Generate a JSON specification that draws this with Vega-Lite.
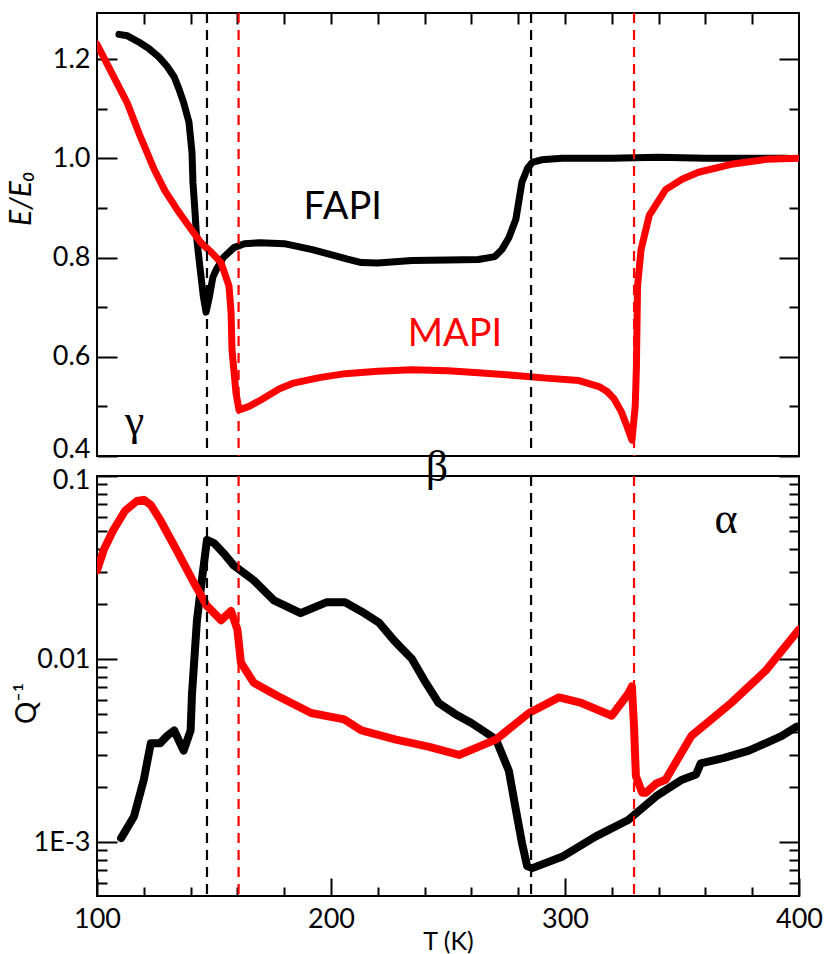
{
  "$schema": "https://vega.github.io/schema/vega-lite/v6.json",
  "background": "white",
  "padding": {"left": 5, "top": 10, "right": 20, "bottom": 0},
  "autosize": {"type": "pad"},
  "config": {
    "font": "Lato",
    "view": {"stroke": "black", "strokeWidth": 2},
    "axis": {
      "labelFontSize": 27, "labelColor": "black", "labelFont": "Lato",
      "titleFontSize": 26, "titleFontWeight": "normal", "titleColor": "black", "titleFont": "Lato",
      "tickColor": "black", "tickWidth": 2, "domain": false, "grid": false,
      "labelFlush": false, "labelOverlap": false, "labelBound": false
    }
  },
  "datasets": {
    "E": [
      {"s": "FAPI", "T": 109.4, "E": 1.25}, {"s": "FAPI", "T": 113, "E": 1.247}, {"s": "FAPI", "T": 118, "E": 1.234},
      {"s": "FAPI", "T": 122, "E": 1.222}, {"s": "FAPI", "T": 126.5, "E": 1.204}, {"s": "FAPI", "T": 130, "E": 1.185},
      {"s": "FAPI", "T": 133, "E": 1.164}, {"s": "FAPI", "T": 135, "E": 1.14}, {"s": "FAPI", "T": 137, "E": 1.113},
      {"s": "FAPI", "T": 139.3, "E": 1.073}, {"s": "FAPI", "T": 140.6, "E": 1.012}, {"s": "FAPI", "T": 141, "E": 0.952},
      {"s": "FAPI", "T": 141.9, "E": 0.891}, {"s": "FAPI", "T": 142.5, "E": 0.844}, {"s": "FAPI", "T": 144, "E": 0.78},
      {"s": "FAPI", "T": 145.5, "E": 0.72}, {"s": "FAPI", "T": 146.6, "E": 0.69}, {"s": "FAPI", "T": 148, "E": 0.72},
      {"s": "FAPI", "T": 149.5, "E": 0.76}, {"s": "FAPI", "T": 151, "E": 0.776}, {"s": "FAPI", "T": 154, "E": 0.8},
      {"s": "FAPI", "T": 158.5, "E": 0.82}, {"s": "FAPI", "T": 163, "E": 0.828}, {"s": "FAPI", "T": 170, "E": 0.83},
      {"s": "FAPI", "T": 180, "E": 0.828}, {"s": "FAPI", "T": 192, "E": 0.816}, {"s": "FAPI", "T": 200, "E": 0.806},
      {"s": "FAPI", "T": 207, "E": 0.797}, {"s": "FAPI", "T": 213, "E": 0.79}, {"s": "FAPI", "T": 220, "E": 0.789},
      {"s": "FAPI", "T": 234.6, "E": 0.794}, {"s": "FAPI", "T": 250, "E": 0.795}, {"s": "FAPI", "T": 263, "E": 0.796},
      {"s": "FAPI", "T": 270, "E": 0.802}, {"s": "FAPI", "T": 273, "E": 0.816}, {"s": "FAPI", "T": 276, "E": 0.84},
      {"s": "FAPI", "T": 279, "E": 0.877}, {"s": "FAPI", "T": 281.6, "E": 0.952}, {"s": "FAPI", "T": 284, "E": 0.98},
      {"s": "FAPI", "T": 286, "E": 0.992}, {"s": "FAPI", "T": 290, "E": 0.997}, {"s": "FAPI", "T": 298.7, "E": 1.0},
      {"s": "FAPI", "T": 320, "E": 1.0}, {"s": "FAPI", "T": 340, "E": 1.002}, {"s": "FAPI", "T": 360, "E": 1.0},
      {"s": "FAPI", "T": 380, "E": 1.0}, {"s": "FAPI", "T": 395, "E": 1.0},
      {"s": "MAPI", "T": 100, "E": 1.23}, {"s": "MAPI", "T": 106, "E": 1.175}, {"s": "MAPI", "T": 112.8, "E": 1.113},
      {"s": "MAPI", "T": 118, "E": 1.05}, {"s": "MAPI", "T": 124.4, "E": 0.978}, {"s": "MAPI", "T": 129, "E": 0.935},
      {"s": "MAPI", "T": 134.2, "E": 0.897}, {"s": "MAPI", "T": 139, "E": 0.865}, {"s": "MAPI", "T": 144.4, "E": 0.83},
      {"s": "MAPI", "T": 149, "E": 0.81}, {"s": "MAPI", "T": 153, "E": 0.79}, {"s": "MAPI", "T": 156.4, "E": 0.743},
      {"s": "MAPI", "T": 157.3, "E": 0.689}, {"s": "MAPI", "T": 157.7, "E": 0.614}, {"s": "MAPI", "T": 159.4, "E": 0.527},
      {"s": "MAPI", "T": 160.7, "E": 0.493}, {"s": "MAPI", "T": 165, "E": 0.5}, {"s": "MAPI", "T": 170, "E": 0.513},
      {"s": "MAPI", "T": 177.8, "E": 0.535}, {"s": "MAPI", "T": 184, "E": 0.547}, {"s": "MAPI", "T": 195, "E": 0.558},
      {"s": "MAPI", "T": 206, "E": 0.566}, {"s": "MAPI", "T": 220, "E": 0.571}, {"s": "MAPI", "T": 234.6, "E": 0.574},
      {"s": "MAPI", "T": 250, "E": 0.572}, {"s": "MAPI", "T": 263, "E": 0.568}, {"s": "MAPI", "T": 280, "E": 0.562},
      {"s": "MAPI", "T": 292, "E": 0.557}, {"s": "MAPI", "T": 306, "E": 0.552}, {"s": "MAPI", "T": 314.5, "E": 0.54},
      {"s": "MAPI", "T": 318, "E": 0.53}, {"s": "MAPI", "T": 321, "E": 0.515}, {"s": "MAPI", "T": 324, "E": 0.49},
      {"s": "MAPI", "T": 326.5, "E": 0.46}, {"s": "MAPI", "T": 328.6, "E": 0.432}, {"s": "MAPI", "T": 330, "E": 0.5},
      {"s": "MAPI", "T": 330.5, "E": 0.574}, {"s": "MAPI", "T": 331, "E": 0.743}, {"s": "MAPI", "T": 332.5, "E": 0.816},
      {"s": "MAPI", "T": 336, "E": 0.885}, {"s": "MAPI", "T": 343, "E": 0.937}, {"s": "MAPI", "T": 350, "E": 0.958},
      {"s": "MAPI", "T": 357, "E": 0.972}, {"s": "MAPI", "T": 371, "E": 0.988}, {"s": "MAPI", "T": 386, "E": 0.998},
      {"s": "MAPI", "T": 400, "E": 1.0}
    ],
    "Q": [
      {"s": "FAPI", "T": 110.3, "Q": 0.00105}, {"s": "FAPI", "T": 115.8, "Q": 0.00138}, {"s": "FAPI", "T": 120, "Q": 0.00219},
      {"s": "FAPI", "T": 123, "Q": 0.00347}, {"s": "FAPI", "T": 127, "Q": 0.00347}, {"s": "FAPI", "T": 130, "Q": 0.0038},
      {"s": "FAPI", "T": 133, "Q": 0.00407}, {"s": "FAPI", "T": 137, "Q": 0.00316}, {"s": "FAPI", "T": 140, "Q": 0.00407},
      {"s": "FAPI", "T": 140.6, "Q": 0.00646}, {"s": "FAPI", "T": 141.5, "Q": 0.00955}, {"s": "FAPI", "T": 142.7, "Q": 0.0162},
      {"s": "FAPI", "T": 145, "Q": 0.0282}, {"s": "FAPI", "T": 147, "Q": 0.0447}, {"s": "FAPI", "T": 150, "Q": 0.043},
      {"s": "FAPI", "T": 154, "Q": 0.038}, {"s": "FAPI", "T": 158.5, "Q": 0.0324}, {"s": "FAPI", "T": 167, "Q": 0.0269},
      {"s": "FAPI", "T": 175.6, "Q": 0.0209}, {"s": "FAPI", "T": 187, "Q": 0.0178}, {"s": "FAPI", "T": 198, "Q": 0.0204},
      {"s": "FAPI", "T": 206, "Q": 0.0204}, {"s": "FAPI", "T": 213, "Q": 0.0182}, {"s": "FAPI", "T": 220.5, "Q": 0.0158},
      {"s": "FAPI", "T": 227, "Q": 0.0126}, {"s": "FAPI", "T": 234.6, "Q": 0.01}, {"s": "FAPI", "T": 240, "Q": 0.0076},
      {"s": "FAPI", "T": 246, "Q": 0.00575}, {"s": "FAPI", "T": 253, "Q": 0.00501}, {"s": "FAPI", "T": 260, "Q": 0.00447},
      {"s": "FAPI", "T": 266, "Q": 0.00398}, {"s": "FAPI", "T": 270.5, "Q": 0.00363}, {"s": "FAPI", "T": 276, "Q": 0.00245},
      {"s": "FAPI", "T": 279, "Q": 0.0015}, {"s": "FAPI", "T": 281.6, "Q": 0.00099}, {"s": "FAPI", "T": 283.8, "Q": 0.00074},
      {"s": "FAPI", "T": 286, "Q": 0.00072}, {"s": "FAPI", "T": 298.7, "Q": 0.00083}, {"s": "FAPI", "T": 313, "Q": 0.00107},
      {"s": "FAPI", "T": 327, "Q": 0.00132}, {"s": "FAPI", "T": 339, "Q": 0.00178}, {"s": "FAPI", "T": 350, "Q": 0.00219},
      {"s": "FAPI", "T": 356, "Q": 0.00234}, {"s": "FAPI", "T": 358, "Q": 0.00269}, {"s": "FAPI", "T": 368, "Q": 0.00288},
      {"s": "FAPI", "T": 378.6, "Q": 0.00316}, {"s": "FAPI", "T": 392.7, "Q": 0.0038}, {"s": "FAPI", "T": 399, "Q": 0.00427},
      {"s": "MAPI", "T": 100, "Q": 0.0306}, {"s": "MAPI", "T": 103, "Q": 0.0398}, {"s": "MAPI", "T": 107, "Q": 0.0507},
      {"s": "MAPI", "T": 112, "Q": 0.0646}, {"s": "MAPI", "T": 117, "Q": 0.073}, {"s": "MAPI", "T": 120, "Q": 0.0741},
      {"s": "MAPI", "T": 123, "Q": 0.0695}, {"s": "MAPI", "T": 127, "Q": 0.0575}, {"s": "MAPI", "T": 134, "Q": 0.0394},
      {"s": "MAPI", "T": 141.5, "Q": 0.026}, {"s": "MAPI", "T": 147, "Q": 0.0195}, {"s": "MAPI", "T": 153, "Q": 0.0163},
      {"s": "MAPI", "T": 157.3, "Q": 0.0183}, {"s": "MAPI", "T": 160, "Q": 0.0145}, {"s": "MAPI", "T": 161.5, "Q": 0.00955},
      {"s": "MAPI", "T": 167, "Q": 0.00741}, {"s": "MAPI", "T": 177, "Q": 0.0063}, {"s": "MAPI", "T": 191.5, "Q": 0.00507},
      {"s": "MAPI", "T": 205.6, "Q": 0.00468}, {"s": "MAPI", "T": 213, "Q": 0.00407}, {"s": "MAPI", "T": 227.8, "Q": 0.00363},
      {"s": "MAPI", "T": 242, "Q": 0.00331}, {"s": "MAPI", "T": 254.7, "Q": 0.00299}, {"s": "MAPI", "T": 263, "Q": 0.00331},
      {"s": "MAPI", "T": 270.5, "Q": 0.00363}, {"s": "MAPI", "T": 284.6, "Q": 0.00507}, {"s": "MAPI", "T": 297.4, "Q": 0.00617},
      {"s": "MAPI", "T": 307, "Q": 0.00575}, {"s": "MAPI", "T": 320, "Q": 0.0049}, {"s": "MAPI", "T": 327, "Q": 0.00646},
      {"s": "MAPI", "T": 328.6, "Q": 0.00708}, {"s": "MAPI", "T": 329.5, "Q": 0.00427}, {"s": "MAPI", "T": 330.3, "Q": 0.00229},
      {"s": "MAPI", "T": 333, "Q": 0.00186}, {"s": "MAPI", "T": 334.6, "Q": 0.00186}, {"s": "MAPI", "T": 339, "Q": 0.00209},
      {"s": "MAPI", "T": 343, "Q": 0.00219}, {"s": "MAPI", "T": 354, "Q": 0.0038}, {"s": "MAPI", "T": 364.5, "Q": 0.0049},
      {"s": "MAPI", "T": 371, "Q": 0.00575}, {"s": "MAPI", "T": 386, "Q": 0.0087}, {"s": "MAPI", "T": 400, "Q": 0.0145}
    ],
    "trans": [
      {"s": "FAPI", "T": 147}, {"s": "MAPI", "T": 160.5}, {"s": "FAPI", "T": 285.5}, {"s": "MAPI", "T": 329.5}
    ],
    "notesE": [
      {"s": "FAPI", "kind": "series", "label": "FAPI", "T": 205, "E": 0.877},
      {"s": "MAPI", "kind": "series", "label": "MAPI", "T": 253, "E": 0.622},
      {"s": "phase", "kind": "phase", "label": "γ", "T": 116, "E": 0.442}
    ],
    "notesQ": [
      {"s": "phase", "kind": "phase", "label": "β", "T": 245.3, "Q": 0.094},
      {"s": "phase", "kind": "phase", "label": "α", "T": 368.8, "Q": 0.0489}
    ]
  },
  "vconcat": [
    {
      "width": 702,
      "height": 443,
      "resolve": {"axis": {"x": "independent", "y": "independent"}},
      "layer": [
        {
          "data": {"name": "E"},
          "transform": [{"filter": "datum.s === 'FAPI'"}],
          "mark": {"type": "line", "color": "black", "strokeWidth": 7, "strokeCap": "round", "strokeJoin": "round", "clip": true},
          "encoding": {
            "x": {"field": "T", "type": "quantitative", "scale": {"domain": [100, 400], "nice": false, "zero": false},
                  "axis": {"orient": "bottom", "ticks": false, "labels": false, "title": null}},
            "y": {"field": "E", "type": "quantitative", "scale": {"domain": [0.4, 1.293], "nice": false, "zero": false},
                  "axis": {"orient": "left", "values": [0.4, 0.5, 0.6, 0.7, 0.8, 0.9, 1.0, 1.1, 1.2],
                           "labelExpr": "round(datum.value*10) % 2 === 0 ? format(datum.value, '.1f') : ''",
                           "tickSize": {"condition": {"test": "round(datum.value*10) % 2 === 0", "value": -20}, "value": -10},
                           "labelOffset": {"condition": {"test": "datum.value === 0.4", "value": -7}, "value": 0},
                           "labelPadding": 27,
                           "title": "E/E₀", "titleFontStyle": "italic", "titleFontSize": 30,
                           "titleX": -76, "titleY": 185, "titleBaseline": "middle", "titleAngle": -90}}
          }
        },
        {
          "data": {"name": "E"},
          "transform": [{"filter": "datum.s === 'MAPI'"}],
          "mark": {"type": "line", "color": "#ff0000", "strokeWidth": 7, "strokeCap": "round", "strokeJoin": "round", "clip": true},
          "encoding": {
            "x": {"field": "T", "type": "quantitative",
                  "axis": {"orient": "top", "values": [120, 140, 160, 180, 200, 220, 240, 260, 280, 300, 320, 340, 360, 380],
                           "labels": false, "tickSize": -11, "title": null}},
            "y": {"field": "E", "type": "quantitative",
                  "axis": {"orient": "right", "values": [0.4, 0.5, 0.6, 0.7, 0.8, 0.9, 1.0, 1.1, 1.2], "labels": false,
                           "tickSize": {"condition": {"test": "round(datum.value*10) % 2 === 0", "value": -20}, "value": -10},
                           "title": null}}
          }
        },
        {
          "data": {"name": "trans"},
          "mark": {"type": "rule", "strokeWidth": 2.2, "strokeDash": [10, 7]},
          "encoding": {
            "x": {"field": "T", "type": "quantitative", "axis": null},
            "color": {"field": "s", "type": "nominal", "scale": {"domain": ["FAPI", "MAPI", "phase"], "range": ["black", "#ff0000", "black"]}, "legend": null}
          }
        },
        {
          "data": {"name": "notesE"},
          "transform": [{"filter": "datum.kind === 'series'"}],
          "mark": {"type": "text", "font": "Lato", "fontSize": 38, "align": "center", "baseline": "alphabetic"},
          "encoding": {
            "x": {"field": "T", "type": "quantitative", "axis": null},
            "y": {"field": "E", "type": "quantitative", "axis": null},
            "text": {"field": "label"},
            "color": {"field": "s", "type": "nominal", "legend": null}
          }
        },
        {
          "data": {"name": "notesE"},
          "transform": [{"filter": "datum.kind === 'phase'"}],
          "mark": {"type": "text", "font": "Liberation Serif", "fontSize": 44, "align": "center", "baseline": "alphabetic"},
          "encoding": {
            "x": {"field": "T", "type": "quantitative", "axis": null},
            "y": {"field": "E", "type": "quantitative", "axis": null},
            "text": {"field": "label"},
            "color": {"field": "s", "type": "nominal", "legend": null}
          }
        }
      ]
    },
    {
      "width": 702,
      "height": 420,
      "resolve": {"axis": {"x": "independent", "y": "independent"}},
      "layer": [
        {
          "data": {"name": "Q"},
          "transform": [{"filter": "datum.s === 'FAPI'"}],
          "mark": {"type": "line", "color": "black", "strokeWidth": 8, "strokeCap": "round", "strokeJoin": "round", "clip": true},
          "encoding": {
            "x": {"field": "T", "type": "quantitative", "scale": {"domain": [100, 400], "nice": false, "zero": false},
                  "axis": {"orient": "bottom", "values": [100, 120, 140, 160, 180, 200, 220, 240, 260, 280, 300, 320, 340, 360, 380, 400],
                           "labelExpr": "datum.value % 100 === 0 ? datum.label : ''",
                           "tickSize": {"condition": {"test": "datum.value % 100 === 0", "value": -18}, "value": -9},
                           "labelPadding": 28,
                           "title": "T (K)", "titleFontSize": 25, "titleY": 45, "titleBaseline": "middle"}},
            "y": {"field": "Q", "type": "quantitative", "scale": {"type": "log", "domain": [0.000507, 0.1], "nice": false},
                  "axis": {"orient": "left",
                           "values": [0.0006, 0.0007, 0.0008, 0.0009, 0.001, 0.002, 0.003, 0.004, 0.005, 0.006, 0.007, 0.008, 0.009, 0.01, 0.02, 0.03, 0.04, 0.05, 0.06, 0.07, 0.08, 0.09, 0.1],
                           "labelExpr": "datum.value === 0.1 ? '0.1' : datum.value === 0.01 ? '0.01' : datum.value === 0.001 ? '1E-3' : ''",
                           "tickSize": {"condition": {"test": "datum.value === 0.1 || datum.value === 0.01 || datum.value === 0.001", "value": -20}, "value": -10},
                           "labelOffset": {"condition": {"test": "datum.value === 0.1", "value": 4}, "value": 0},
                           "labelPadding": 27,
                           "title": "Q⁻¹", "titleFontSize": 28,
                           "titleX": -70, "titleY": 227, "titleBaseline": "middle", "titleAngle": -90}}
          }
        },
        {
          "data": {"name": "Q"},
          "transform": [{"filter": "datum.s === 'MAPI'"}],
          "mark": {"type": "line", "color": "#ff0000", "strokeWidth": 8, "strokeCap": "round", "strokeJoin": "round", "clip": true},
          "encoding": {
            "x": {"field": "T", "type": "quantitative", "axis": {"orient": "top", "ticks": false, "labels": false, "title": null}},
            "y": {"field": "Q", "type": "quantitative",
                  "axis": {"orient": "right",
                           "values": [0.0006, 0.0007, 0.0008, 0.0009, 0.001, 0.002, 0.003, 0.004, 0.005, 0.006, 0.007, 0.008, 0.009, 0.01, 0.02, 0.03, 0.04, 0.05, 0.06, 0.07, 0.08, 0.09, 0.1],
                           "labels": false,
                           "tickSize": {"condition": {"test": "datum.value === 0.1 || datum.value === 0.01 || datum.value === 0.001", "value": -20}, "value": -10},
                           "title": null}}
          }
        },
        {
          "data": {"name": "trans"},
          "mark": {"type": "rule", "strokeWidth": 2.2, "strokeDash": [10, 7]},
          "encoding": {
            "x": {"field": "T", "type": "quantitative", "axis": null},
            "color": {"field": "s", "type": "nominal", "scale": {"domain": ["FAPI", "MAPI", "phase"], "range": ["black", "#ff0000", "black"]}, "legend": null}
          }
        },
        {
          "data": {"name": "notesQ"},
          "mark": {"type": "text", "font": "Liberation Serif", "fontSize": 44, "align": "center", "baseline": "alphabetic"},
          "encoding": {
            "x": {"field": "T", "type": "quantitative", "axis": null},
            "y": {"field": "Q", "type": "quantitative", "axis": null},
            "text": {"field": "label"},
            "color": {"field": "s", "type": "nominal", "legend": null}
          }
        }
      ]
    }
  ],
  "spacing": 20,
  "bounds": "flush"
}
